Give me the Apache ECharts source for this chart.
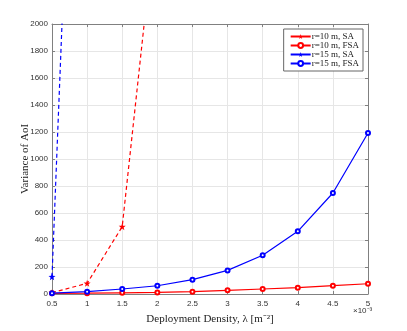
<!DOCTYPE html>
<html><head><meta charset="utf-8">
<script src="https://cdn.jsdelivr.net/npm/echarts@6/dist/echarts.min.js"></script>
<style>html,body{margin:0;padding:0;background:#fff}#c{width:407px;height:331px}</style>
</head><body><div id="c"></div>
<script>
const lambdas = [0.5, 1, 1.5, 2, 2.5, 3, 3.5, 4, 4.5, 5];
const r10SA = [10, 79, 499, 2900];
const r10FSA = [5, 6, 9, 12, 17, 27, 37, 47, 62, 76];
const r15SA = [128, 6700];
const r15FSA = [6, 17, 37, 61, 106, 175, 287, 464, 748, 1193];
const seriesNames = ['r=10 m, SA', 'r=10 m, FSA', 'r=15 m, SA', 'r=15 m, FSA'];

const star = 'path://M0,-10L2.35,-3.24L9.51,-3.09L3.8,1.24L5.88,8.09L0,4L-5.88,8.09L-3.8,1.24L-9.51,-3.09L-2.35,-3.24Z';
const pair = (vals) => vals.map((v, i) => [lambdas[i], v]);

const chart = echarts.init(document.getElementById('c'), null, {renderer: 'canvas'});
const tickFont = {fontFamily: 'Liberation Sans, Arial, sans-serif', fontSize: 8, color: '#333'};
const frame = {lineStyle: {color: '#808080', width: 1}};
chart.setOption({
  animation: false,
  backgroundColor: '#fff',
  grid: {left: 52, right: 39, top: 24, bottom: 37, show: false},
  xAxis: [{
    type: 'value', min: 0.5, max: 5, interval: 0.5,
    axisLine: {show: true, onZero: false, ...frame},
    axisTick: {show: true, inside: true, length: 3, lineStyle: {color: '#808080'}},
    axisLabel: {...tickFont, margin: 6, formatter: (v) => String(v)},
    splitLine: {show: true, lineStyle: {color: '#e6e6e6', width: 1}},
    name: 'Deployment Density, λ [m⁻²]', nameLocation: 'middle', nameGap: 20, nameMoveOverlap: false,
    nameTextStyle: {fontFamily: 'Liberation Serif, Times New Roman, serif', fontSize: 11, color: '#222'}
  }, {
    type: 'value', position: 'top', min: 0.5, max: 5, interval: 0.5,
    axisLine: {show: true, onZero: false, ...frame},
    axisTick: {show: true, inside: true, length: 3, lineStyle: {color: '#808080'}},
    axisLabel: {show: false}, splitLine: {show: false}
  }],
  yAxis: [{
    type: 'value', min: 0, max: 2000, interval: 200,
    axisLine: {show: true, onZero: false, ...frame},
    axisTick: {show: true, inside: true, length: 3, lineStyle: {color: '#808080'}},
    axisLabel: {...tickFont, margin: 4, formatter: (v) => String(v)},
    splitLine: {show: true, lineStyle: {color: '#e6e6e6', width: 1}},
    name: 'Variance of AoI', nameLocation: 'middle', nameGap: 21, nameMoveOverlap: false,
    nameTextStyle: {fontFamily: 'Liberation Serif, Times New Roman, serif', fontSize: 11, color: '#222'}
  }, {
    type: 'value', position: 'right', min: 0, max: 2000, interval: 200,
    axisLine: {show: true, onZero: false, ...frame},
    axisTick: {show: true, inside: true, length: 3, lineStyle: {color: '#808080'}},
    axisLabel: {show: false}, splitLine: {show: false}
  }],
  legend: {
    right: 44, top: 29, orient: 'vertical', itemGap: 0, itemWidth: 20, itemHeight: 6,
    backgroundColor: '#fff', borderColor: '#666', borderWidth: 1, padding: [3, 4, 3, 6],
    textStyle: {fontFamily: 'Liberation Serif, Times New Roman, serif', fontSize: 9, color: '#222', padding: [0, 0, 0, -4]},
    lineStyle: {type: 'solid'},
    data: seriesNames
  },
  graphic: [{
    type: 'text', left: 353, top: 307,
    style: {text: '×10⁻³', font: '8px Liberation Sans, Arial, sans-serif', fill: '#333'}
  }],
  series: [
    {name: seriesNames[0], type: 'line', data: pair(r10SA), clip: true,
     lineStyle: {color: '#ff0000', width: 1.2, type: [4, 3]}, itemStyle: {color: '#ff0000'},
     symbol: star, symbolSize: 7},
    {name: seriesNames[1], type: 'line', data: pair(r10FSA), clip: true,
     lineStyle: {color: '#ff0000', width: 1.2}, itemStyle: {color: '#ff0000', borderColor: '#ff0000', borderWidth: 1},
     symbol: 'emptyCircle', symbolSize: 4},
    {name: seriesNames[2], type: 'line', data: pair(r15SA), clip: true,
     lineStyle: {color: '#0000ff', width: 1.2, type: [4, 3]}, itemStyle: {color: '#0000ff'},
     symbol: star, symbolSize: 7},
    {name: seriesNames[3], type: 'line', data: pair(r15FSA), clip: true,
     lineStyle: {color: '#0000ff', width: 1.2}, itemStyle: {color: '#0000ff', borderColor: '#0000ff', borderWidth: 1},
     symbol: 'emptyCircle', symbolSize: 4}
  ]
});
</script></body></html>
